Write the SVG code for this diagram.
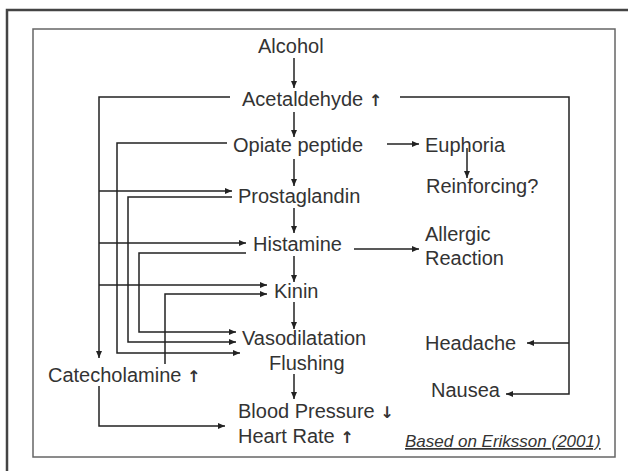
<svg xmlns="http://www.w3.org/2000/svg" width="628" height="471" viewBox="0 0 628 471">
<defs>
<style>
.t{font-family:"Liberation Sans",Arial,sans-serif;font-size:20px;fill:#333}
.a{font-family:"DejaVu Sans",sans-serif;font-size:16px;font-weight:bold}
.c{fill:none;stroke:#222;stroke-width:1.5}
.cite{font-family:"Liberation Sans",Arial,sans-serif;font-size:17px;font-style:italic;text-decoration:underline;fill:#333}
</style>
<marker id="ah" markerUnits="userSpaceOnUse" markerWidth="7" markerHeight="7" refX="7" refY="3.5" orient="auto">
<path d="M0,0.5 L7,3.5 L0,6.5 z" fill="#222"/>
</marker>
</defs>
<rect width="628" height="471" fill="#fff"/>
<rect x="7" y="10" width="640" height="480" fill="none" stroke="#444" stroke-width="2.5"/>
<rect x="33" y="29" width="582" height="428" fill="none" stroke="#666" stroke-width="1.5"/>

<g id="connectors" class="c">
<path d="M294,58 V88" marker-end="url(#ah)"/>
<path d="M294,112 V137" marker-end="url(#ah)"/>
<path d="M294,159 V186" marker-end="url(#ah)"/>
<path d="M294,208 V233" marker-end="url(#ah)"/>
<path d="M294,256 V282" marker-end="url(#ah)"/>
<path d="M294,302 V329" marker-end="url(#ah)"/>
<path d="M294,374 V399" marker-end="url(#ah)"/>
<path d="M230,97 H99 V358" marker-end="url(#ah)"/>
<path d="M99,191 H232" marker-end="url(#ah)"/>
<path d="M99,243 H246" marker-end="url(#ah)"/>
<path d="M99,285 H267" marker-end="url(#ah)"/>
<path d="M227,143 H117 V353 H240" marker-end="url(#ah)"/>
<path d="M232,197 H128 V342 H236" marker-end="url(#ah)"/>
<path d="M246,253 H139 V332 H236" marker-end="url(#ah)"/>
<path d="M165,364 V294 H267" marker-end="url(#ah)"/>
<path d="M99,386 V426 H225" marker-end="url(#ah)"/>
<path d="M400,97 H569 V394 H506" marker-end="url(#ah)"/>
<path d="M569,343 H527" marker-end="url(#ah)"/>
<path d="M387,144 H419" marker-end="url(#ah)"/>
<path d="M354,249 H419" marker-end="url(#ah)"/>
<path d="M467,148 V178" marker-end="url(#ah)"/>
</g>

<g id="alcohol"><text class="t" x="258" y="53">Alcohol</text></g>
<g id="acetaldehyde"><text class="t" x="242" y="106">Acetaldehyde <tspan class="a">↑</tspan></text></g>
<g id="opiate"><text class="t" x="233" y="152">Opiate peptide</text></g>
<g id="euphoria"><text class="t" x="425" y="152">Euphoria</text></g>
<g id="reinforcing"><text class="t" x="426" y="193">Reinforcing?</text></g>
<g id="prostaglandin"><text class="t" x="238" y="203">Prostaglandin</text></g>
<g id="histamine"><text class="t" x="253" y="251">Histamine</text></g>
<g id="allergic"><text class="t" x="425" y="241">Allergic</text><text class="t" x="425" y="265">Reaction</text></g>
<g id="kinin"><text class="t" x="274" y="298">Kinin</text></g>
<g id="vasodilatation"><text class="t" x="242" y="345">Vasodilatation</text><text class="t" x="269" y="370">Flushing</text></g>
<g id="headache"><text class="t" x="425" y="350">Headache</text></g>
<g id="catecholamine"><text class="t" x="48" y="382">Catecholamine <tspan class="a">↑</tspan></text></g>
<g id="nausea"><text class="t" x="431" y="397">Nausea</text></g>
<g id="bp"><text class="t" x="238" y="418">Blood Pressure <tspan class="a">↓</tspan></text><text class="t" x="238" y="443">Heart Rate <tspan class="a">↑</tspan></text></g>
<g id="citation"><text class="cite" x="405" y="447">Based on Eriksson (2001)</text></g>
</svg>
